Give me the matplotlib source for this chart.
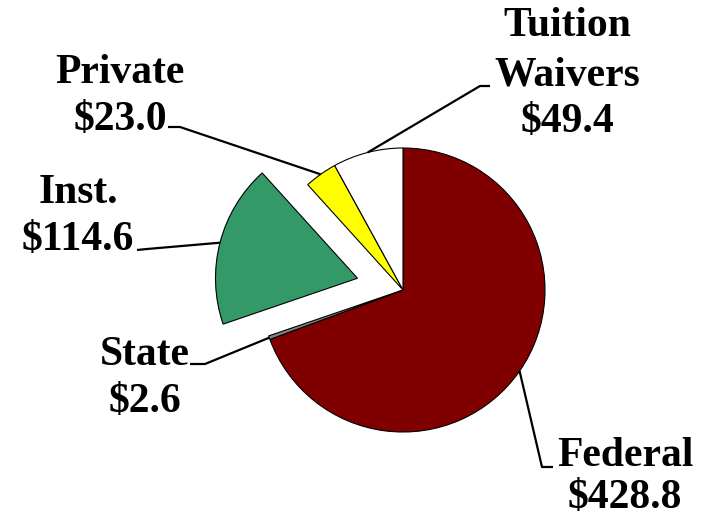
import numpy as np
import matplotlib
matplotlib.use("Agg")
import matplotlib.pyplot as plt

# Data
categories = ["Federal", "State", "Inst.", "Private", "Tuition\nWaivers"]
values = [428.8, 2.6, 114.6, 23.0, 49.4]
colors = ["#800000", "#808080", "#339966", "#FFFF00", "#FFFFFF"]
explode_px = [0, 0, 47, 0, 0]

W, H = 706, 518
fig = plt.figure(figsize=(W / 100, H / 100), dpi=100)
ax = fig.add_axes([0, 0, 1, 1])

def Y(y):
    return H - y

wedges, _ = ax.pie(values, colors=colors, startangle=90, counterclock=False,
                   radius=142, center=(403, Y(290)), explode=explode_px,
                   wedgeprops=dict(edgecolor="black", linewidth=0.8),
                   frame=True)
ax.set_xlim(0, W)
ax.set_ylim(0, H)
ax.axis("off")

# label layout (text x center, line baselines, leader elbow, leader end), image coords
layout = {
    "Federal": dict(x=625, base=[466, 508], elbow=(542, 467), end=(553, 467)),
    "State": dict(x=145, base=[365, 412], elbow=(205, 364), end=(190, 364)),
    "Inst.": dict(x=78, base=[203, 250], elbow=(147, 249), end=(137, 250)),
    "Private": dict(x=120, base=[83, 130], elbow=(180, 127), end=(168, 127)),
    "Tuition\nWaivers": dict(x=567, base=[36, 86, 132], elbow=(480, 86), end=(490, 86)),
}

font = dict(family="Liberation Serif", weight="bold", size=30)

for w, cat, val in zip(wedges, categories, values):
    mid = np.deg2rad((w.theta1 + w.theta2) / 2)
    cx, cy = w.center
    ax_pt = (cx + w.r * np.cos(mid), cy + w.r * np.sin(mid))
    L = layout[cat]
    xs = [ax_pt[0], L["elbow"][0], L["end"][0]]
    ys = [ax_pt[1], Y(L["elbow"][1]), Y(L["end"][1])]
    ax.plot(xs, ys, color="black", linewidth=1.6, solid_capstyle="butt", zorder=5)
    lines = cat.split("\n") + [f"${val:.1f}"]
    for line, b in zip(lines, L["base"]):
        ax.text(L["x"], Y(b), line, ha="center", va="baseline", **font)

fig.savefig("out.png", dpi=100)
